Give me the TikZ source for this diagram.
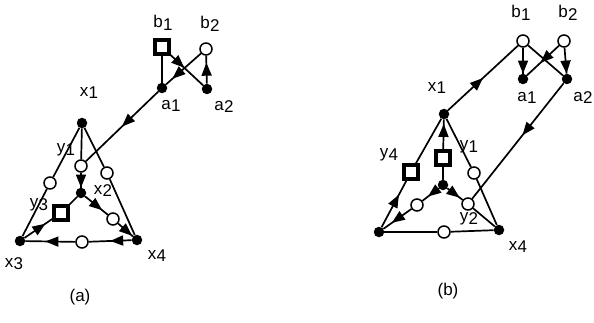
\documentclass[tikz,border=0pt]{standalone}
\usepackage{fontspec}
\setmainfont{Liberation Sans}
\usetikzlibrary{arrows.meta,decorations.markings}
\newcommand{\sublab}[2]{#1\kern0.3pt\raisebox{-0.3ex}{#2}}
\begin{document}
\begin{tikzpicture}[x=1pt,y=-1pt,
 fnode/.style={circle,fill=black,inner sep=0pt,minimum size=10.5pt},
 onode/.style={circle,draw,line width=1.5pt,fill=white,inner sep=0pt,minimum size=12pt},
 snode/.style={rectangle,draw,line width=3.4pt,fill=white,inner sep=0pt,minimum size=14pt},
 edge/.style={line width=1.7pt},
 marr/.style={edge,postaction={decorate},decoration={markings,mark=at position #1 with {\arrow{Triangle[length=13pt,width=10pt]}}}},
 lbl/.style={font=\fontsize{17}{19}\selectfont,inner sep=0pt}]
\useasboundingbox (0,0) rectangle (594,323);
% ---------- (a) ----------
\node[snode] (b1a) at (162,47) {};
\node[onode] (b2a) at (206,49) {};
\node[fnode] (a1a) at (162,88) {};
\node[fnode] (a2a) at (207,89) {};
\node[fnode] (x1a) at (82,123) {};
\node[onode] (y1a) at (81,166) {};
\node[onode] (c13a) at (50,183) {};
\node[onode] (c14a) at (107,173) {};
\node[fnode] (x2a) at (81,193) {};
\node[snode] (y3a) at (61,213) {};
\node[onode] (c24a) at (113,219) {};
\node[fnode] (x3a) at (20,241) {};
\node[fnode] (x4a) at (137,240) {};
\node[onode] (c34a) at (82,242) {};
\draw[edge] (b1a) -- (a1a);
\draw[marr=0.42] (b1a) -- (a2a);
\draw[marr=0.82] (b2a) -- (a1a);
\draw[marr=0.75] (a2a) -- (b2a);
\draw[marr=0.5] (a1a) -- (y1a);
\draw[edge] (x1a) -- (y1a);
\draw[marr=1] (y1a) -- (x2a);
\draw[edge] (x1a) -- (c13a);
\draw[edge] (c13a) -- (x3a);
\draw[edge] (x1a) -- (c14a);
\draw[edge] (c14a) -- (x4a);
\draw[edge] (x2a) -- (y3a);
\draw[marr=0.75] (x3a) -- (y3a);
\draw[marr=0.75] (x2a) -- (c24a);
\draw[marr=0.95] (c24a) -- (x4a);
\draw[marr=0.5] (x4a) -- (c34a);
\draw[marr=0.6] (c34a) -- (x3a);
\node[lbl] at (163,23) {\sublab{b}{1}};
\node[lbl] at (210,24) {\sublab{b}{2}};
\node[lbl] at (171,106) {\sublab{a}{1}};
\node[lbl] at (224,107) {\sublab{a}{2}};
\node[lbl] at (89,93) {\sublab{x}{1}};
\node[lbl] at (66,150) {\sublab{y}{1}};
\node[lbl] at (103,191) {\sublab{x}{2}};
\node[lbl] at (39,205) {\sublab{y}{3}};
\node[lbl] at (14,264) {\sublab{x}{3}};
\node[lbl] at (157,256) {\sublab{x}{4}};
\node[lbl] at (80,297) {(a)};
% ---------- (b) ----------
\node[onode] (b1b) at (523,41) {};
\node[onode] (b2b) at (564,41) {};
\node[fnode] (a1b) at (523,79) {};
\node[fnode] (a2b) at (567,79) {};
\node[fnode] (x1b) at (444,114) {};
\node[snode] (sqb) at (443,158) {};
\node[fnode] (x2b) at (443,185) {};
\node[snode] (y4b) at (411,172) {};
\node[onode] (y1b) at (474,173) {};
\node[onode] (y2b) at (468,204) {};
\node[onode] (c23b) at (417,205) {};
\node[fnode] (x3b) at (379,232) {};
\node[fnode] (x4b) at (499,230) {};
\node[onode] (c34b) at (444,232) {};
\draw[marr=0.5] (x1b) -- (b1b);
\draw[marr=1] (b1b) -- (a1b);
\draw[marr=1] (b2b) -- (a2b);
\draw[edge] (b1b) -- (a2b);
\draw[marr=0.58] (b2b) -- (a1b);
\draw[marr=0.45] (a2b) -- (y2b);
\draw[marr=0.8] (x2b) -- (y2b);
\draw[edge] (y2b) -- (x4b);
\draw[marr=0.65] (x2b) -- (c23b);
\draw[marr=0.7] (c23b) -- (x3b);
\draw[marr=0.7] (x3b) -- (y4b);
\draw[edge] (y4b) -- (x1b);
\draw[marr=0.85] (sqb) -- (x1b);
\draw[edge] (sqb) -- (x2b);
\draw[edge] (x1b) -- (y1b);
\draw[edge] (y1b) -- (x4b);
\draw[edge] (x3b) -- (c34b);
\draw[edge] (c34b) -- (x4b);
\node[lbl] at (521,13) {\sublab{b}{1}};
\node[lbl] at (568,13) {\sublab{b}{2}};
\node[lbl] at (527,98) {\sublab{a}{1}};
\node[lbl] at (583,98) {\sublab{a}{2}};
\node[lbl] at (437,88) {\sublab{x}{1}};
\node[lbl] at (469,147) {\sublab{y}{1}};
\node[lbl] at (389,155) {\sublab{y}{4}};
\node[lbl] at (469,219) {\sublab{y}{2}};
\node[lbl] at (518,247) {\sublab{x}{4}};
\node[lbl] at (448,291) {(b)};
\end{tikzpicture}
\end{document}
